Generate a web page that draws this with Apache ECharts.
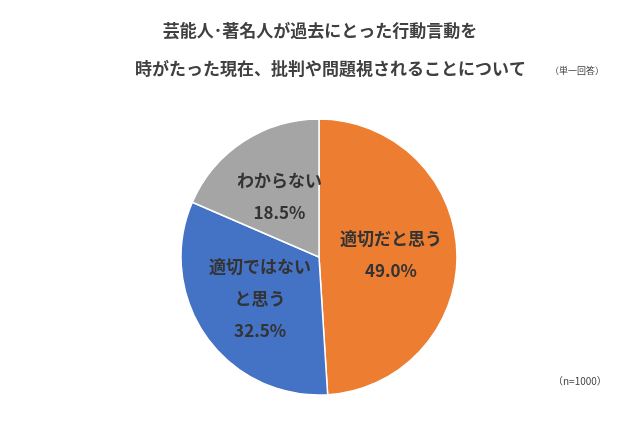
<!DOCTYPE html>
<html>
<head>
<meta charset="utf-8">
<script src="https://cdn.jsdelivr.net/npm/echarts@6/dist/echarts.min.js"></script>
<style>html,body{margin:0;padding:0;background:#fff}#display{width:640px;height:437px}</style>
</head>
<body>
<div id="display"></div>
<script>
// カテゴリと値
var categories = ['適切だと思う', '適切ではない\nと思う', 'わからない'];
var values = [49.0, 32.5, 18.5];
var colors = ['#ED7D31', '#4472C4', '#A5A5A5'];

var myDisplay = echarts.init(document.getElementById('display'));
var font = '"Noto Sans CJK JP", sans-serif';
myDisplay.setOption({
    animation: false,
    graphic: [
        { type: 'text', left: 'center', top: 22, style: { text: '芸能人･著名人が過去にとった行動言動を', font: 'bold 17px ' + font, fill: '#404040' } },
        { type: 'text', left: 135, top: 60, style: { text: '時がたった現在、批判や問題視されることについて', font: 'bold 17px ' + font, fill: '#404040' } },
        { type: 'text', left: 550, top: 66, style: { text: '（単一回答）', font: '9px ' + font, fill: '#404040' } },
        { type: 'text', left: 553, top: 376, style: { text: '（n=1000）', font: '10px ' + font, fill: '#404040' } }
    ],
    series: [{
        type: 'pie',
        center: [319, 257],
        radius: [0, 138],
        startAngle: 90,
        clockwise: true,
        data: categories.map(function (c, i) {
            return { name: c, value: values[i], itemStyle: { color: colors[i] } };
        }),
        itemStyle: { borderColor: '#fff', borderWidth: 1.5 },
        label: {
            position: 'inside',
            formatter: function (p) { return p.name + '\n' + p.value.toFixed(1) + '%'; },
            fontFamily: font,
            fontSize: 17,
            fontWeight: 'bold',
            color: '#333',
            lineHeight: 32
        },
        labelLine: { show: false }
    }]
});
</script>
</body>
</html>
